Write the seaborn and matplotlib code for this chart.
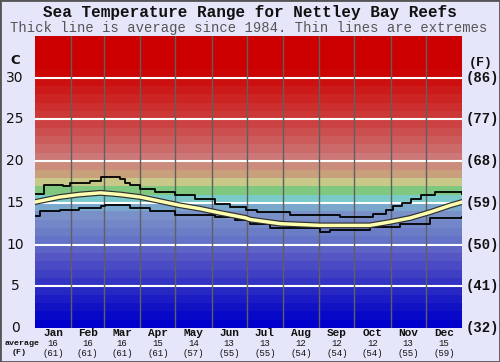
import numpy as np
import pandas as pd
import seaborn as sns
import matplotlib.pyplot as plt
from matplotlib.colors import ListedColormap, LinearSegmentedColormap
from matplotlib.patches import Rectangle
import matplotlib.transforms as mtransforms

# --- data ---
months = ['Jan', 'Feb', 'Mar', 'Apr', 'May', 'Jun', 'Jul', 'Aug', 'Sep', 'Oct', 'Nov', 'Dec']
month_starts = [0, 31, 59, 90, 120, 151, 181, 212, 243, 273, 304, 334, 365]
avg_c = [16, 16, 16, 15, 14, 13, 13, 12, 12, 12, 13, 15]
avg_f = [61, 61, 61, 61, 57, 55, 55, 54, 54, 54, 55, 59]

avg_days = [0, 21, 38, 56, 73, 90, 107, 124, 141, 158, 180, 184, 210, 244, 286, 303, 321, 338, 355, 365]
avg_vals = [15.1, 15.7, 16.0, 16.2, 16.0, 15.7, 15.2, 14.7, 14.3, 13.8, 13.2, 13.0, 12.5, 12.3, 12.3,
            12.7, 13.2, 13.9, 14.7, 15.1]

max_days = [0, 8, 24, 30, 47, 56, 60, 73, 77, 81, 90, 103, 120, 137, 154, 167, 180, 190, 218, 261,
            289, 300, 306, 314, 321, 330, 342, 365]
max_vals = [16.1, 17.2, 17.0, 17.4, 17.6, 18.1, 18.1, 17.9, 17.4, 17.1, 16.7, 16.3, 15.9, 15.5, 14.9,
            14.5, 14.1, 13.9, 13.5, 13.3, 13.7, 14.1, 14.6, 15.0, 15.5, 15.9, 16.3, 16.1]

min_days = [0, 4, 21, 38, 56, 60, 81, 98, 120, 154, 171, 184, 201, 244, 252, 286, 312, 338, 365]
min_vals = [13.4, 14.0, 14.2, 14.4, 14.6, 14.7, 14.4, 14.0, 13.6, 13.3, 12.9, 12.5, 12.0, 11.5, 11.8,
            12.1, 12.5, 13.2, 13.3]

c_ticks = [0, 5, 10, 15, 20, 25, 30]
f_ticks = [32, 41, 50, 59, 68, 77, 86]

# --- colour bands, one per degree ---
low = LinearSegmentedColormap.from_list('low', ['#0000CC', '#1818C4', '#3636C4', '#5454C4', '#6878C8', '#7A90C8'])
high = LinearSegmentedColormap.from_list('high', ['#CC7878', '#CC4848', '#CC2424', '#CC0000', '#CC0000'])
band_colors = [low(i / 13) for i in range(14)]
band_colors += ['#7AA8CC', '#7ACACA', '#80C880', '#C8C888', '#C8A07C', '#CC8C7C']
band_colors += [high(i / 14) for i in range(15)]
bands = np.arange(35).reshape(-1, 1)

W, H = 500, 362
fig = plt.figure(figsize=(W / 100, H / 100), dpi=100, facecolor='#E6E6FA')
ax = fig.add_axes([35 / W, 1 - 328 / H, 427 / W, 292 / H])
ax.imshow(bands, cmap=ListedColormap(band_colors), origin='lower', aspect='auto',
          extent=[0, 365, 0, 35], interpolation='nearest', zorder=0)

for t in c_ticks[1:]:
    ax.axhline(t, color='white', lw=1.5, zorder=1)
for d in month_starts[1:-1]:
    ax.axvline(d, color='#606060', lw=1, zorder=1)

sns.lineplot(x=max_days, y=max_vals, drawstyle='steps-post', color='black', lw=1.3, ax=ax, zorder=3)
sns.lineplot(x=min_days, y=min_vals, drawstyle='steps-post', color='black', lw=1.3, ax=ax, zorder=3)
sns.lineplot(x=avg_days, y=avg_vals, color='#303030', lw=4.2, ax=ax, zorder=4)
sns.lineplot(x=avg_days, y=avg_vals, color='#FFFFB0', lw=2.5, ax=ax, zorder=5)

ax.set_xlim(0, 365)
ax.set_ylim(0, 35)
ax.set_xticks([])
ax.set_yticks([])
ax.set_xlabel('')
ax.set_ylabel('')
for s in ax.spines.values():
    s.set_visible(False)

# --- texts ---
def ftext(x, y, s, **kw):
    fig.text(x / W, 1 - y / H, s, ha='center', va='center', **kw)

mono = 'Liberation Mono'
ftext(250, 12, 'Sea Temperature Range for Nettley Bay Reefs', family=mono, weight='bold', fontsize=11.5, color='#111111')
ftext(249, 28, 'Thick line is average since 1984. Thin lines are extremes', family=mono, fontsize=10, color='#555555')

ftext(15, 61, 'C', family='DejaVu Sans', weight='bold', fontsize=9.5, color='#111111')
ftext(481, 63, '(F)', family=mono, weight='bold', fontsize=9.5, color='#111111')
yt = mtransforms.blended_transform_factory(fig.transFigure, ax.transData)
for c, f in zip(c_ticks, f_ticks):
    fig.text(15 / W, c, str(c), transform=yt, ha='center', va='center',
             family='DejaVu Sans', fontsize=10, color='#111111')
    fig.text(482 / W, c, f'({f})', transform=yt, ha='center', va='center',
             family=mono, weight='bold', fontsize=10, color='#111111')

xt = mtransforms.blended_transform_factory(ax.transData, fig.transFigure)
for i, m in enumerate(months):
    mid = (month_starts[i] + month_starts[i + 1]) / 2
    fig.text(mid, 1 - 333 / H, m, transform=xt, ha='center', va='center',
             family=mono, weight='bold', fontsize=8, color='#111111')
    fig.text(mid, 1 - 343.5 / H, str(avg_c[i]), transform=xt, ha='center', va='center',
             family=mono, fontsize=6.5, color='#111111')
    fig.text(mid, 1 - 353 / H, f'({avg_f[i]})', transform=xt, ha='center', va='center',
             family=mono, fontsize=6.5, color='#111111')
ftext(22, 343.5, 'average', family=mono, weight='bold', fontsize=6, color='#111111')
ftext(19, 353, '(F)', family=mono, weight='bold', fontsize=6, color='#111111')

fig.patches.append(Rectangle((0, 0), 1, 1, transform=fig.transFigure, fill=False,
                             edgecolor='#555555', lw=2))

fig.savefig('out.png', dpi=100, facecolor=fig.get_facecolor())
